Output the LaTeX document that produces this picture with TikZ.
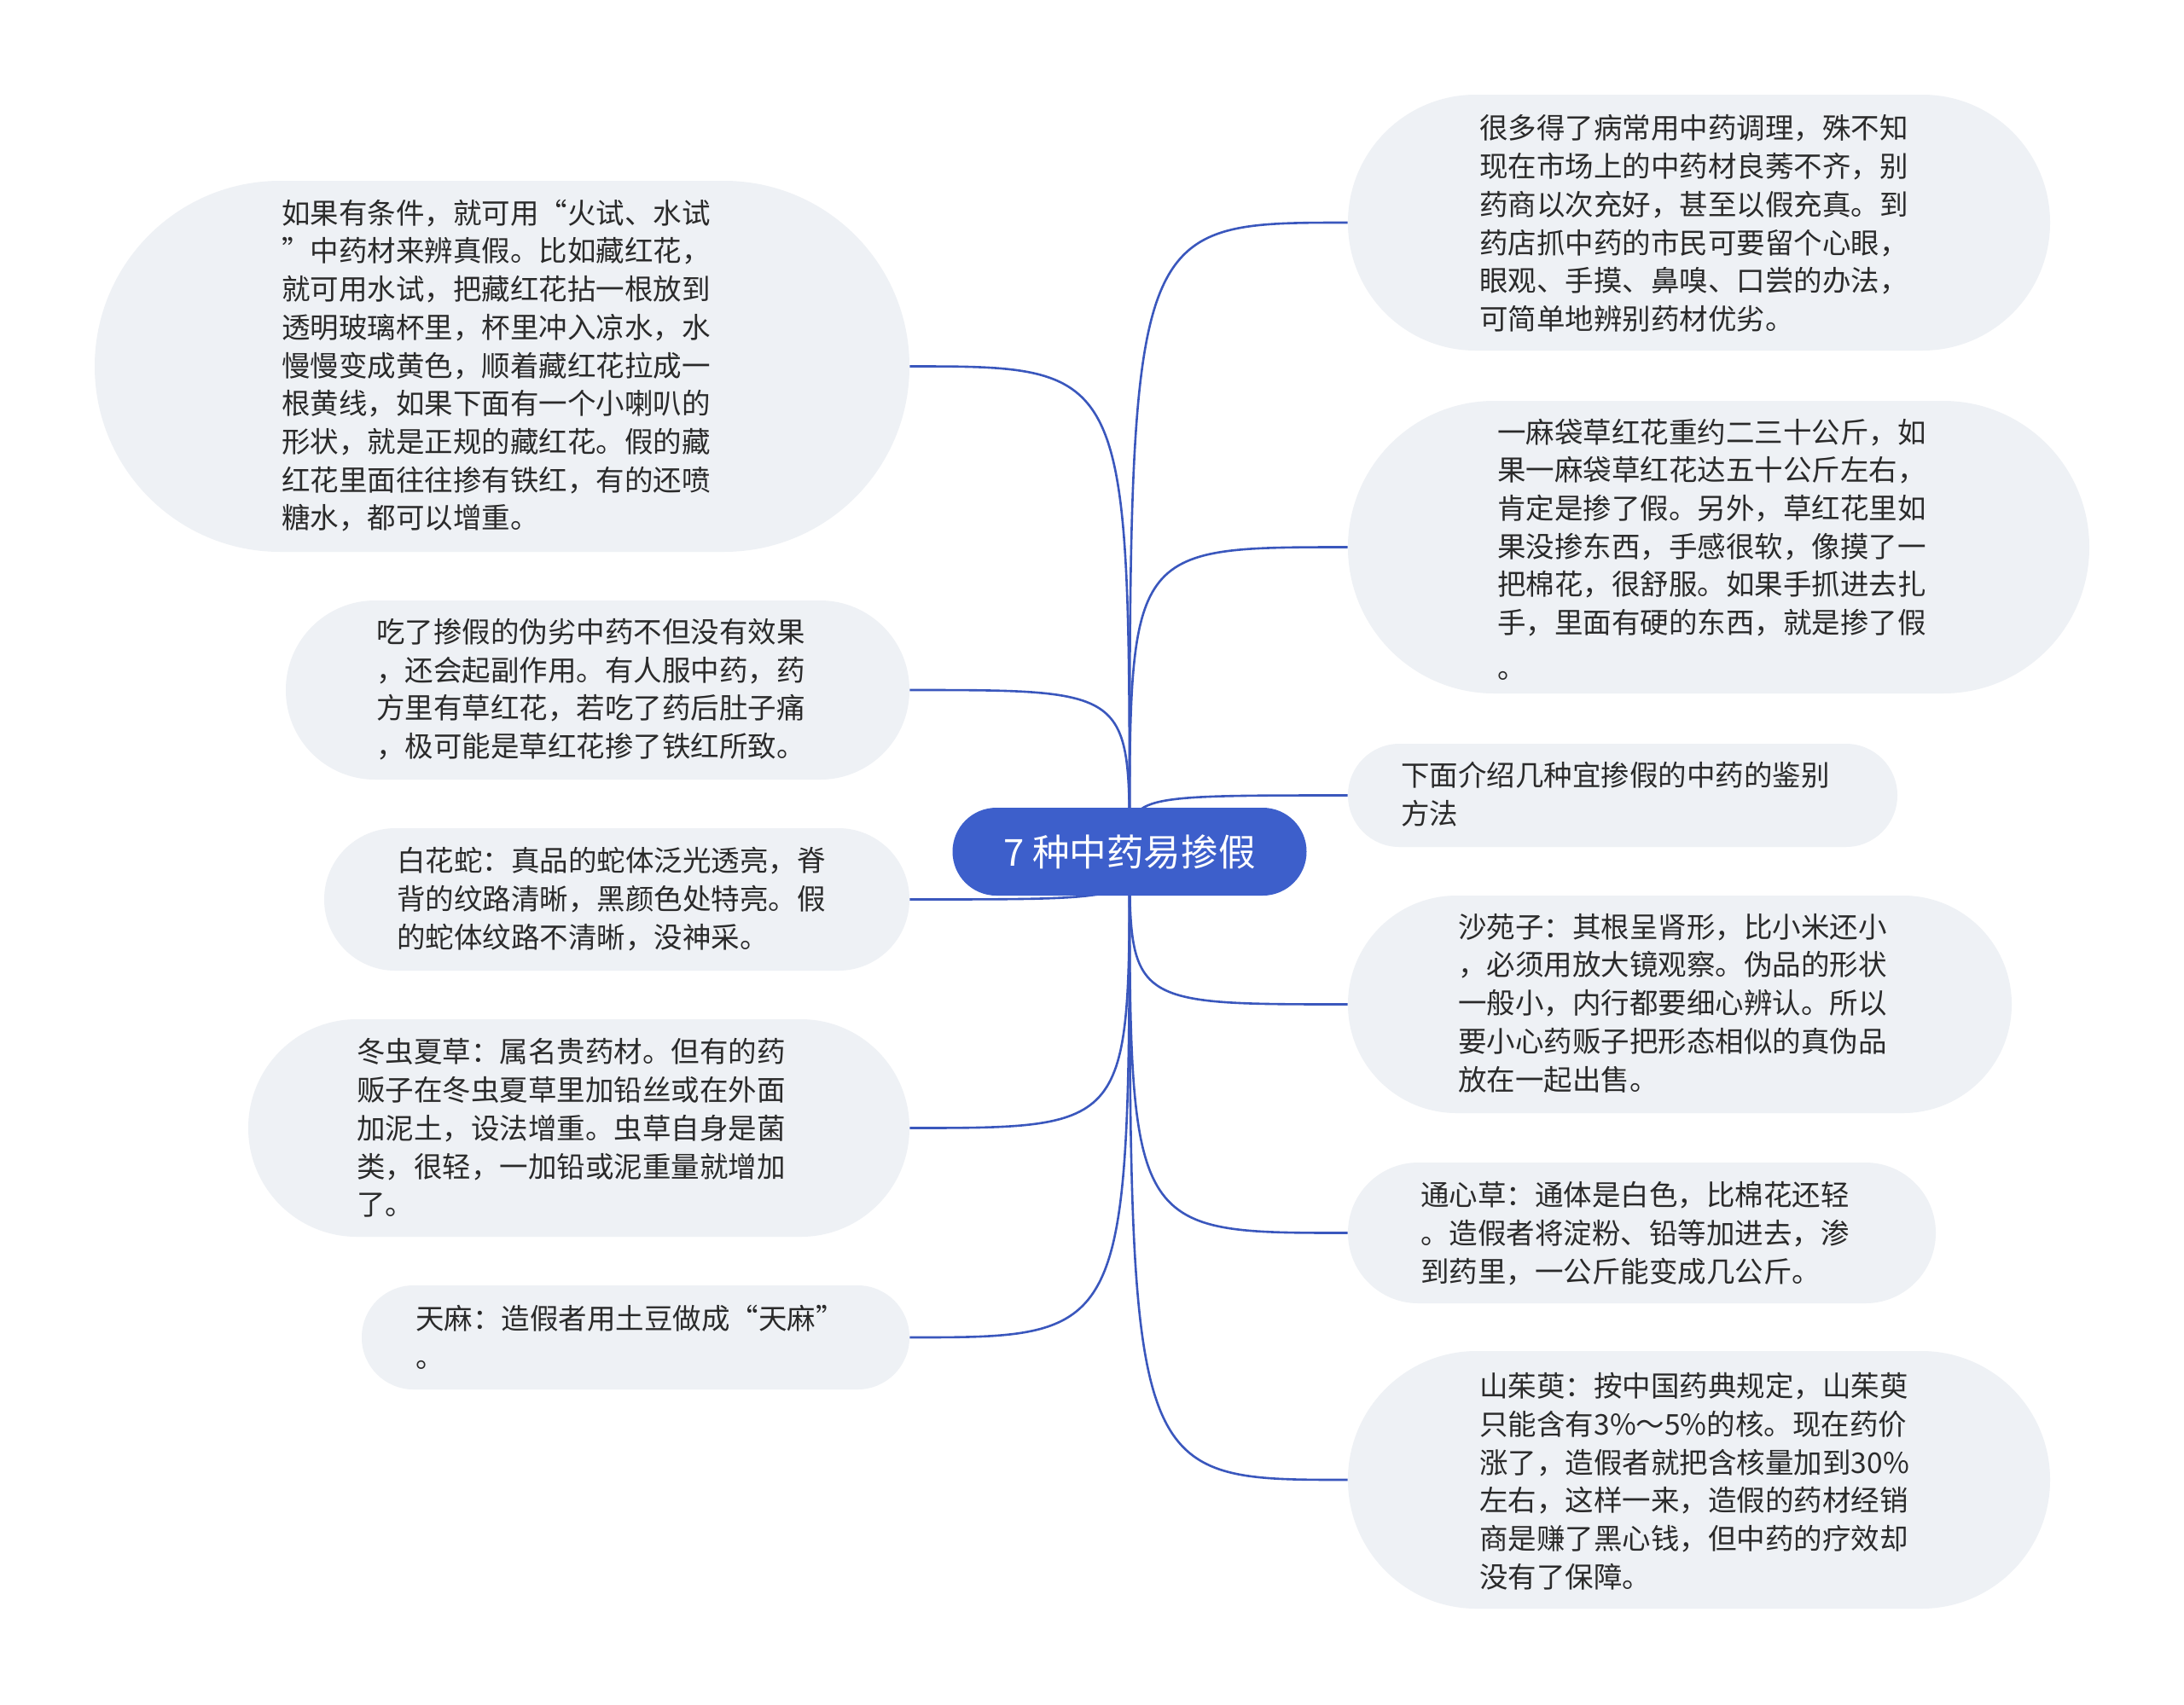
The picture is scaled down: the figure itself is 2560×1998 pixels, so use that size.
\documentclass[tikz,border=0pt]{standalone}
\usepackage{fontspec}
\setmainfont{Noto Sans CJK SC}
\usetikzlibrary{backgrounds}
\definecolor{bubfill}{HTML}{EEF1F5}
\definecolor{linecol}{HTML}{3A57BD}
\definecolor{rootfill}{HTML}{3D5FCB}
\definecolor{txt}{HTML}{2A2A2A}
\tikzset{
  bubble/.style={fill=bubfill, draw=none, inner sep=0pt},
  btext/.style={anchor=west, align=left, inner sep=0pt, text=txt,
    font=\fontsize{16.75pt}{22.35pt}\selectfont},
  link/.style={draw=linecol, line width=1.3pt},
  rootbox/.style={fill=rootfill, text=white, inner sep=0pt,
    minimum width=207.5pt, minimum height=51.5pt, rounded corners=25.7pt,
    font=\fontsize{21.8pt}{26pt}\selectfont}
}
\begin{document}
\begin{tikzpicture}[x=0.5pt,y=-0.5pt]
\useasboundingbox (0,0) rectangle (2560,1998);

% left bubbles
\node[bubble, minimum width=477.5pt, minimum height=217.5pt, rounded corners=108.7pt] (L1) at (588.5,429.5) {};
\node[bubble, minimum width=365.5pt, minimum height=105pt, rounded corners=52.4pt] (L2) at (700.5,809) {};
\node[bubble, minimum width=343pt, minimum height=83.5pt, rounded corners=41.7pt] (L3) at (723,1054.5) {};
\node[bubble, minimum width=387.5pt, minimum height=127.5pt, rounded corners=63.7pt] (L4) at (678.5,1322.5) {};
\node[bubble, minimum width=321pt, minimum height=61pt, rounded corners=30.4pt] (L5) at (745,1568) {};
% right bubbles
\node[bubble, minimum width=411.5pt, minimum height=150pt, rounded corners=74.9pt] (R1) at (1991.5,261) {};
\node[bubble, minimum width=434.5pt, minimum height=171.5pt, rounded corners=85.7pt] (R2) at (2014.5,641.5) {};
\node[bubble, minimum width=322pt, minimum height=60.5pt, rounded corners=30.2pt] (R3) at (1902,932.5) {};
\node[bubble, minimum width=389pt, minimum height=127.5pt, rounded corners=63.7pt] (R4) at (1969,1177.5) {};
\node[bubble, minimum width=344.5pt, minimum height=82.5pt, rounded corners=41.2pt] (R5) at (1924.5,1445.5) {};
\node[bubble, minimum width=411.5pt, minimum height=151pt, rounded corners=75.4pt] (R6) at (1991.5,1735) {};

% texts
\node[btext] (tL1) at (330,428.6) {如果有条件，就可用“火试、水试\\”中药材来辨真假。比如藏红花，\\就可用水试，把藏红花拈一根放到\\透明玻璃杯里，杯里冲入凉水，水\\慢慢变成黄色，顺着藏红花拉成一\\根黄线，如果下面有一个小喇叭的\\形状，就是正规的藏红花。假的藏\\红花里面往往掺有铁红，有的还喷\\糖水，都可以增重。};
\node[btext] (tL2) at (441,808) {吃了掺假的伪劣中药不但没有效果\\，还会起副作用。有人服中药，药\\方里有草红花，若吃了药后肚子痛\\，极可能是草红花掺了铁红所致。};
\node[btext] (tL3) at (465,1054) {白花蛇：真品的蛇体泛光透亮，脊\\背的纹路清晰，黑颜色处特亮。假\\的蛇体纹路不清晰，没神采。};
\node[btext] (tL4) at (418,1322.5) {冬虫夏草：属名贵药材。但有的药\\贩子在冬虫夏草里加铅丝或在外面\\加泥土，设法增重。虫草自身是菌\\类，很轻，一加铅或泥重量就增加\\了。};
\node[btext] (tL5) at (487,1568) {天麻：造假者用土豆做成“天麻”\\。};
\node[btext] (tR1) at (1734,262) {很多得了病常用中药调理，殊不知\\现在市场上的中药材良莠不齐，别\\药商以次充好，甚至以假充真。到\\药店抓中药的市民可要留个心眼，\\眼观、手摸、鼻嗅、口尝的办法，\\可简单地辨别药材优劣。};
\node[btext] (tR2) at (1755,644) {一麻袋草红花重约二三十公斤，如\\果一麻袋草红花达五十公斤左右，\\肯定是掺了假。另外，草红花里如\\果没掺东西，手感很软，像摸了一\\把棉花，很舒服。如果手抓进去扎\\手，里面有硬的东西，就是掺了假\\[4pt]。};
\node[btext] (tR3) at (1642,931) {下面介绍几种宜掺假的中药的鉴别\\方法};
\node[btext] (tR4) at (1709,1176) {沙苑子：其根呈肾形，比小米还小\\，必须用放大镜观察。伪品的形状\\一般小，内行都要细心辨认。所以\\要小心药贩子把形态相似的真伪品\\放在一起出售。};
\node[btext] (tR5) at (1665,1446) {通心草：通体是白色，比棉花还轻\\。造假者将淀粉、铅等加进去，渗\\到药里，一公斤能变成几公斤。};
\node[btext] (tR6) at (1734,1736.5) {山茱萸：按中国药典规定，山茱萸\\只能含有3\%～5\%的核。现在药价\\涨了，造假者就把含核量加到30\%\\左右，这样一来，造假的药材经销\\商是赚了黑心钱，但中药的疗效却\\没有了保障。};

% root
\node[rootbox] (root) at (1324,998.5) {7 种中药易掺假};

\begin{pgfonlayer}{background}
\fill[white] (0,0) rectangle (2560,1998);
\foreach \n in {R1,R2,R3,R4,R5,R6}{
  \draw[link] (root.center) .. controls (root.center |- \n.west) .. (\n.west);
}
\foreach \n in {L1,L2,L3,L4,L5}{
  \draw[link] (root.center) .. controls (root.center |- \n.east) .. (\n.east);
}
\end{pgfonlayer}
\end{tikzpicture}
\end{document}
